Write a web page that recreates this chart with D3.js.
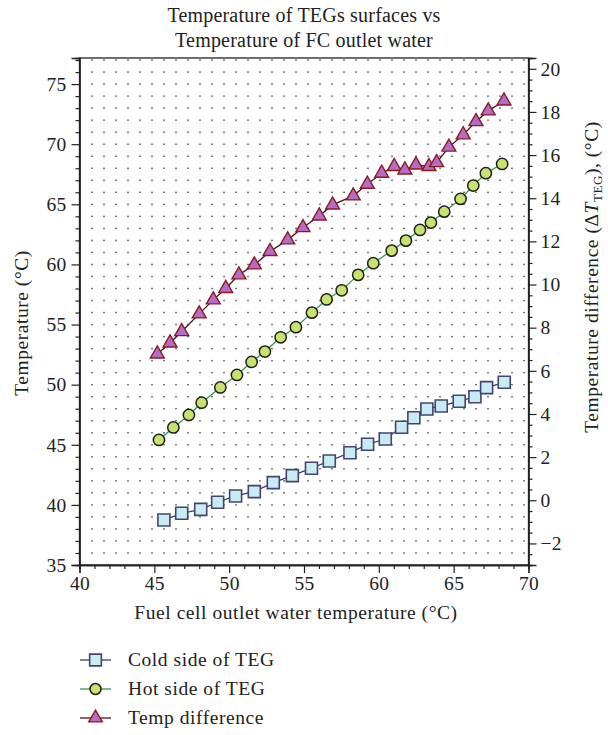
<!DOCTYPE html>
<html>
<head>
<meta charset="utf-8">
<script src="https://cdn.jsdelivr.net/npm/d3@7"></script>
<style>
  html, body { margin: 0; padding: 0; background: #fff; }
  svg { display: block; }
  text { font-family: "Liberation Serif", "Times New Roman", serif; fill: #222; }
</style>
</head>
<body>
<svg id="chart" width="608" height="735"></svg>
<script>
// Fuel cell outlet water temperature (°C) for each measured series
const coldX = [45.64, 46.83, 48.10, 49.23, 50.43, 51.68, 52.95, 54.22, 55.50, 56.69, 58.07,
               59.25, 60.43, 61.52, 62.34, 63.21, 64.17, 65.37, 66.42, 67.20, 68.38];
const coldY = [38.74, 39.30, 39.63, 40.22, 40.74, 41.10, 41.85, 42.43, 43.05, 43.65, 44.34,
               45.04, 45.48, 46.46, 47.25, 47.98, 48.23, 48.62, 49.00, 49.75, 50.20];

const hotX = [45.31, 46.27, 47.31, 48.16, 49.41, 50.52, 51.50, 52.39, 53.44, 54.46, 55.53, 56.51,
              57.52, 58.62, 59.63, 60.86, 61.81, 62.75, 63.48, 64.37, 65.46, 66.31, 67.15, 68.24];
const hotY = [45.40, 46.44, 47.48, 48.50, 49.77, 50.81, 51.89, 52.75, 53.94, 54.78, 55.99, 57.09,
              57.85, 59.13, 60.10, 61.15, 61.98, 62.87, 63.48, 64.39, 65.45, 66.56, 67.59, 68.36];

const diffX = [45.20, 46.05, 46.83, 48.00, 48.94, 49.77, 50.65, 51.68, 52.73, 53.91, 54.93, 56.02, 56.91,
               58.29, 59.23, 60.19, 61.03, 61.74, 62.48, 63.35, 63.86, 64.68, 65.64, 66.49, 67.31, 68.36];
const diffY = [6.78, 7.29, 7.82, 8.64, 9.29, 9.82, 10.45, 10.91, 11.53, 12.07, 12.64, 13.18, 13.69,
               14.11, 14.65, 15.16, 15.47, 15.31, 15.54, 15.47, 15.65, 16.37, 16.94, 17.55, 18.05, 18.51];

// Axis ticks
const xTicks = [40, 45, 50, 55, 60, 65, 70];
const yLeftTicks = [35, 40, 45, 50, 55, 60, 65, 70, 75];
const yRightTicks = [-2, 0, 2, 4, 6, 8, 10, 12, 14, 16, 18, 20];

const titleLines = ["Temperature of TEGs surfaces vs", "Temperature of FC outlet water"];
const seriesNames = ["Cold side of TEG", "Hot side of TEG", "Temp difference"];

const svg = d3.select("#chart");
const plot = { left: 79.5, right: 528.5, top: 58, bottom: 565 };
const FS = "19.5px";
const LS = "0.55px";

const x = d3.scaleLinear().domain([40, 70]).range([plot.left, plot.right]);
const yL = d3.scaleLinear().domain([35, 77.17]).range([plot.bottom, plot.top]);
const yR = d3.scaleLinear().domain([-3, 20.5]).range([plot.bottom, plot.top]);

// Dotted background grid
const grid = svg.append("g");
const gridRows = d3.range(36, 78, 1).filter(v => yL(v) > plot.top + 2);
const gridCols = d3.range(plot.left + 12.5, plot.right - 2, 12);
gridRows.forEach(v => {
  gridCols.forEach(cx => {
    grid.append("rect").attr("x", cx - 0.7).attr("y", yL(v) - 0.7)
      .attr("width", 1.4).attr("height", 1.4).attr("fill", "#3a3a3a");
  });
});

// Frame
svg.append("rect")
  .attr("x", plot.left).attr("y", plot.top)
  .attr("width", plot.right - plot.left).attr("height", plot.bottom - plot.top)
  .attr("fill", "none").attr("stroke", "#222").attr("stroke-width", 1.3);

function styleAxis(g) {
  g.select(".domain").attr("stroke", "#222").attr("stroke-width", 1.3);
  g.selectAll(".tick line").attr("stroke", "#222").attr("stroke-width", 1.2);
  g.selectAll(".tick text").style("font-size", FS).style("letter-spacing", "0.3px")
    .style("font-family", '"Liberation Serif", serif').attr("fill", "#222");
}

// Bottom axis
const gx = svg.append("g").attr("transform", `translate(0,${plot.bottom})`);
gx.call(d3.axisBottom(x).tickValues(d3.range(40, 71, 1)).tickSize(4).tickFormat(""));
gx.call(g => g.selectAll(".tick").filter(d => xTicks.includes(d)).remove());
const gx2 = svg.append("g").attr("transform", `translate(0,${plot.bottom})`);
gx2.call(d3.axisBottom(x).tickValues(xTicks).tickSize(8).tickPadding(3).tickFormat(d3.format("d")));
styleAxis(gx); styleAxis(gx2);

// Left axis
const gyl = svg.append("g").attr("transform", `translate(${plot.left},0)`);
gyl.call(d3.axisLeft(yL).tickValues(d3.range(35, 78, 1)).tickSize(4).tickFormat(""));
gyl.call(g => g.selectAll(".tick").filter(d => yLeftTicks.includes(d)).remove());
const gyl2 = svg.append("g").attr("transform", `translate(${plot.left},0)`);
gyl2.call(d3.axisLeft(yL).tickValues(yLeftTicks).tickSize(8).tickPadding(5).tickFormat(d3.format("d")));
styleAxis(gyl); styleAxis(gyl2);

// Right axis
const minusFmt = d => (d < 0 ? "\u2212" + Math.abs(d) : String(d));
const gyr = svg.append("g").attr("transform", `translate(${plot.right},0)`);
gyr.call(d3.axisRight(yR).tickValues(d3.range(-3, 20.51, 0.5)).tickSize(4).tickFormat(""));
gyr.call(g => g.selectAll(".tick").filter(d => yRightTicks.includes(d)).remove());
const gyr2 = svg.append("g").attr("transform", `translate(${plot.right},0)`);
gyr2.call(d3.axisRight(yR).tickValues(yRightTicks).tickSize(8).tickPadding(4).tickFormat(minusFmt));
styleAxis(gyr); styleAxis(gyr2);

// Series
const series = [
  { xs: coldX, ys: coldY, y: yL, line: "#3b3b6d", fill: "#c8ecf4", stroke: "#44446f",
    symbol: d3.symbolSquare, size: 144, sw: 1.6 },
  { xs: hotX, ys: hotY, y: yL, line: "#2f9a49", fill: "#c6e46c", stroke: "#1e1e1e",
    symbol: d3.symbolCircle, size: 100, sw: 1.5 },
  { xs: diffX, ys: diffY, y: yR, line: "#4b0f1c", fill: "#b56cc8", stroke: "#8a1c20",
    symbol: d3.symbolTriangle, size: 84, sw: 1.4 }
];

series.forEach(s => {
  const pts = s.xs.map((v, i) => [v, s.ys[i]]);
  svg.append("path").datum(pts)
    .attr("fill", "none").attr("stroke", s.line).attr("stroke-width", 1.3)
    .attr("d", d3.line().x(d => x(d[0])).y(d => s.y(d[1])));
  svg.append("g").selectAll("path").data(pts).join("path")
    .attr("transform", d => `translate(${x(d[0])},${s.y(d[1])})`)
    .attr("d", d3.symbol().type(s.symbol).size(s.size))
    .attr("fill", s.fill).attr("stroke", s.stroke).attr("stroke-width", s.sw);
});

// Title
svg.append("g").selectAll("text").data(titleLines).join("text")
  .attr("x", 304).attr("y", (d, i) => 22 + i * 25)
  .attr("text-anchor", "middle").style("font-size", "20px").style("letter-spacing", "0.2px")
  .text(d => d);

// Axis titles
svg.append("text")
  .attr("transform", "translate(27.5,323) rotate(-90)")
  .attr("text-anchor", "middle").style("font-size", FS).style("letter-spacing", LS)
  .text("Temperature (\u00B0C)");

const rt = svg.append("text")
  .attr("transform", "translate(598,277) rotate(-90)")
  .attr("text-anchor", "middle").style("font-size", FS).style("letter-spacing", LS);
rt.append("tspan").text("Temperature difference (\u0394");
rt.append("tspan").style("font-style", "italic").text("T");
rt.append("tspan").attr("dy", 4).style("font-size", "13px").text("TEG");
rt.append("tspan").attr("dy", -4).text("), (\u00B0C)");

svg.append("text")
  .attr("x", 296).attr("y", 619)
  .attr("text-anchor", "middle").style("font-size", FS).style("letter-spacing", LS)
  .text("Fuel cell outlet water temperature (\u00B0C)");

// Legend
const legend = svg.append("g");
series.forEach((s, i) => {
  const ly = 660 + i * 29;
  legend.append("line").attr("x1", 80).attr("x2", 111).attr("y1", ly).attr("y2", ly)
    .attr("stroke", s.line).attr("stroke-width", 1.3);
  legend.append("path").attr("transform", `translate(95.5,${ly})`)
    .attr("d", d3.symbol().type(s.symbol).size(s.size * 0.95))
    .attr("fill", s.fill).attr("stroke", s.stroke).attr("stroke-width", s.sw);
  legend.append("text").attr("x", 128).attr("y", ly + 6)
    .style("font-size", FS).style("letter-spacing", LS).text(seriesNames[i]);
});
</script>
</body>
</html>
